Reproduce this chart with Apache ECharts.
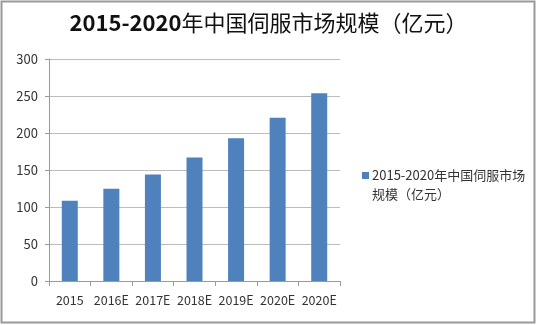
<!DOCTYPE html>
<html>
<head>
<meta charset="utf-8">
<script src="https://cdn.jsdelivr.net/npm/echarts@6/dist/echarts.min.js"></script>
<style>
  html, body { margin: 0; padding: 0; background: #fff; }
  #chart { width: 537px; height: 325px; }
</style>
</head>
<body>
<div id="chart"></div>
<script>
// Servo market size in China, 2015–2020 (100 million yuan)
const years = ['2015', '2016E', '2017E', '2018E', '2019E', '2020E', '2020E'];
const marketSize = [108.5, 124.7, 144, 167, 192.8, 220.7, 253.6];
const seriesName = '2015-2020年中国伺服市场规模（亿元）';
const legendLines = ['2015-2020年中国伺服市场', '规模（亿元）'];
const yTicks = { min: 0, max: 300, interval: 50 };

const FONT = '"Noto Sans CJK SC", "Noto Sans", sans-serif';
const BAR_COLOR = '#4f81bd';

const chart = echarts.init(document.getElementById('chart'), null, { renderer: 'canvas' });

chart.setOption({
  backgroundColor: '#ffffff',
  animation: false,
  title: {
    text: '{a|2015-2020}{b|年中国伺服市场规模（亿元）}',
    left: 'center',
    top: 7,
    textStyle: {
      rich: {
        a: { fontFamily: FONT, fontSize: 22, fontWeight: 'bold', color: '#111' },
        b: { fontFamily: FONT, fontSize: 22, fontWeight: 'normal', color: '#111' }
      }
    }
  },
  graphic: [{
    type: 'rect',
    shape: { x: 1.5, y: 1.5, width: 533, height: 321 },
    style: { fill: 'none', stroke: '#9a9a9a', lineWidth: 2 },
    silent: true
  }],
  legend: {
    orient: 'vertical',
    left: 352,
    top: 161,
    icon: 'rect',
    itemWidth: 0,
    itemHeight: 0,
    itemGap: 0,
    // marker sits beside the first line; second line is indented under the text
    formatter: () => '{m|}{s|}{t|' + legendLines[0] + '}\n{p|}{t|' + legendLines[1] + '}',
    textStyle: {
      fontFamily: FONT, fontSize: 13, color: '#333', lineHeight: 19,
      rich: {
        m: { width: 7, height: 7, backgroundColor: BAR_COLOR },
        s: { width: 3 },
        p: { width: 10 },
        t: { fontFamily: FONT, fontSize: 13, color: '#333', lineHeight: 19 }
      }
    },
    data: [seriesName]
  },
  grid: { left: 49, right: 197, top: 59, bottom: 44, containLabel: false },
  xAxis: {
    type: 'category',
    data: years,
    axisLine: { lineStyle: { color: '#9a9a9a', width: 1 } },
    axisTick: { show: true, alignWithLabel: false, length: 5, lineStyle: { color: '#9a9a9a' } },
    axisLabel: { fontFamily: FONT, fontSize: 12.5, color: '#333', margin: 13, interval: 0 }
  },
  yAxis: {
    type: 'value',
    min: yTicks.min,
    max: yTicks.max,
    interval: yTicks.interval,
    axisLine: { show: true, lineStyle: { color: '#9a9a9a', width: 1 } },
    axisTick: { show: true, length: 4, lineStyle: { color: '#9a9a9a' } },
    axisLabel: { fontFamily: FONT, fontSize: 13, color: '#333', margin: 11 },
    splitLine: { lineStyle: { color: '#bcbcbc', width: 1 } }
  },
  series: [{
    name: seriesName,
    type: 'bar',
    data: marketSize,
    barWidth: 16,
    itemStyle: { color: BAR_COLOR }
  }]
});
</script>
</body>
</html>
